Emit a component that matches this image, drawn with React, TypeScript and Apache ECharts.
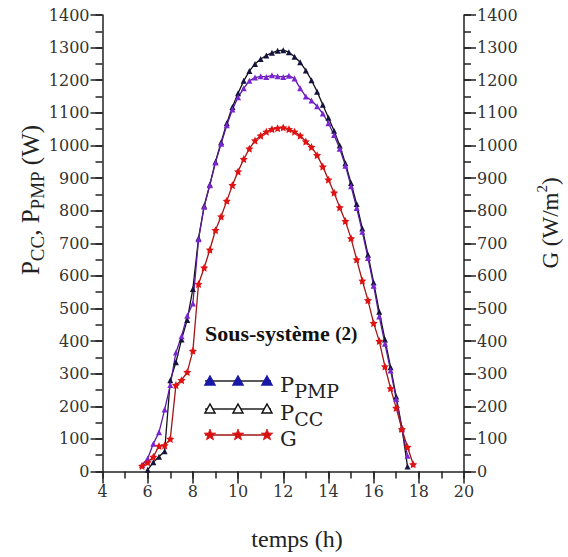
import React, { useEffect, useRef } from "react";
import * as echarts from "echarts";

const hours = [
  5.75, 6, 6.25, 6.5, 6.75, 7, 7.25, 7.5, 7.75, 8, 8.25, 8.5, 8.75, 9, 9.25, 9.5, 9.75,
  10, 10.25, 10.5, 10.75, 11, 11.25, 11.5, 11.75, 12, 12.25, 12.5, 12.75, 13, 13.25,
  13.5, 13.75, 14, 14.25, 14.5, 14.75, 15, 15.25, 15.5, 15.75, 16, 16.25, 16.5, 16.75,
  17, 17.25, 17.5, 17.75,
];

// top curve (dark)
const pcc = [
  null, 5, 28, 45, 62, 280, 335, 405, 465, 560, 715, 815, 880, 950, 1010, 1068, 1118,
  1160, 1198, 1228, 1250, 1265, 1276, 1284, 1290, 1292, 1286, 1272, 1255, 1230, 1200,
  1165, 1125, 1085, 1045, 1000, 945, 885, 820, 745, 665, 580, 490, 405, 320,
  230, 135, 15, null,
];

// second curve (purple)
const ppmp = [
  20, 40, 85, 120, 190, 265, 365, 415, 478, 515, 712, 812, 878, 948, 1005, 1062, 1110,
  1148, 1175, 1198, 1208, 1212, 1210, 1215, 1212, 1210, 1214, 1205, 1175, 1150, 1138,
  1120, 1098, 1068, 1032, 990, 938, 875, 808, 735, 655, 570, 475, 392, 310,
  222, 130, 48, null,
];

// irradiance
const gIrr = [
  17, 28, 45, 78, 80, 100, 265, 280, 305, 370, 575, 625, 680, 740, 782, 830, 878,
  920, 958, 990, 1015, 1030, 1042, 1050, 1053, 1055, 1050, 1042, 1030, 1012, 995,
  970, 935, 895, 855, 810, 768, 715, 650, 585, 525, 455, 400, 322, 255,
  195, 130, 75, 22,
];

const xTicks = { min: 4, max: 20, interval: 2, minor: 1 };
const yTicks = { min: 0, max: 1400, interval: 100, minor: 50 };

const FONT = "'DejaVu Serif', serif";
const TFONT = "'Liberation Serif', 'Times New Roman', serif";
const STAR = "path://M0,-10L2.9,-4L9.5,-3.1L4.8,1.5L5.9,8.1L0,5L-5.9,8.1L-4.8,1.5L-9.5,-3.1L-2.9,-4Z";
const AX = "#222";

function pairs(vals: (number | null)[]) {
  const out: number[][] = [];
  hours.forEach((h, i) => {
    const v = vals[i];
    if (v !== null && v !== undefined) out.push([h, v]);
  });
  return out;
}

function starPts(cx: number, cy: number, r: number, ri: number) {
  const pts: number[][] = [];
  for (let k = 0; k < 10; k++) {
    const a = -Math.PI / 2 + (k * Math.PI) / 5;
    const rr = k % 2 === 0 ? r : ri;
    pts.push([cx + rr * Math.cos(a), cy + rr * Math.sin(a)]);
  }
  return pts;
}

function triPts(cx: number, cy: number) {
  return [
    [cx, cy - 5],
    [cx + 5, cy + 4],
    [cx - 5, cy + 4],
  ];
}

export default function App() {
  const ref = useRef<HTMLDivElement>(null);
  useEffect(() => {
    if (!ref.current) return;
    const chart = echarts.init(ref.current, null, { renderer: "svg" });
    const major = {
      axisLine: { show: true, onZero: false, lineStyle: { color: AX, width: 1.5 } },
      axisTick: { show: true, length: 12, lineStyle: { color: AX, width: 1.5 } },
      splitLine: { show: false },
    };
    const minorAx = {
      axisLine: { show: false, onZero: false },
      axisTick: { show: true, length: 7, lineStyle: { color: AX, width: 1.5 } },
      axisLabel: { show: false },
      splitLine: { show: false },
    };
    const lbl = { fontFamily: FONT, fontSize: 16, color: "#333", formatter: (v: number) => String(v) };
    const yMajor = {
      type: "value",
      min: yTicks.min,
      max: yTicks.max,
      interval: yTicks.interval,
      ...major,
      axisLabel: { ...lbl, margin: 13 },
    };
    const yMinor = {
      type: "value",
      min: yTicks.min,
      max: yTicks.max,
      interval: yTicks.minor,
      ...minorAx,
    };

    const legendRows = [
      { y: 381, kind: "tri", fill: "#1818a8", stroke: "#1818a8", line: "#222", text: "{m|P}{s|PMP}" },
      { y: 409, kind: "tri", fill: "#ffffff", stroke: "#111", line: "#222", text: "{m|P}{s|CC}" },
      { y: 435, kind: "star", fill: "#d81010", stroke: "#d81010", line: "#a01515", text: "{m|G}" },
    ];
    const legendRich = {
      m: { fontFamily: FONT, fontSize: 21, lineHeight: 30, fill: "#222" },
      s: { fontFamily: FONT, fontSize: 19, lineHeight: 19, verticalAlign: "bottom", fill: "#222" },
    };
    const legendEls: any[] = [];
    legendRows.forEach((r) => {
      legendEls.push({
        type: "line",
        shape: { x1: 205, y1: r.y, x2: 271, y2: r.y },
        style: { stroke: r.line, lineWidth: 1.5 },
      });
      [210, 238, 267].forEach((cx) => {
        if (r.kind === "tri") {
          legendEls.push({
            type: "polygon",
            shape: { points: triPts(cx, r.y) },
            style: { fill: r.fill, stroke: r.stroke, lineWidth: 1.5 },
          });
        } else {
          legendEls.push({
            type: "polygon",
            shape: { points: starPts(cx, r.y, 6, 2.5) },
            style: { fill: r.fill, stroke: r.stroke, lineWidth: 0.8 },
          });
        }
      });
      legendEls.push({
        type: "text",
        x: 280,
        y: r.y + 4,
        style: { text: r.text, rich: legendRich, align: "left", verticalAlign: "middle" },
      });
    });

    chart.setOption({
      animation: false,
      backgroundColor: "#ffffff",
      grid: { left: 102.5, right: 104, top: 15, bottom: 85.5, containLabel: false },
      xAxis: [
        {
          type: "value",
          position: "bottom",
          min: xTicks.min,
          max: xTicks.max,
          interval: xTicks.interval,
          ...major,
          axisLabel: { ...lbl, margin: 12 },
        },
        {
          type: "value",
          position: "bottom",
          min: xTicks.min,
          max: xTicks.max,
          interval: xTicks.minor,
          ...minorAx,
        },
      ],
      yAxis: [
        { ...yMajor, position: "left" },
        { ...yMajor, position: "right" },
        { ...yMinor, position: "left" },
        { ...yMinor, position: "right" },
      ],
      series: [
        {
          name: "P_CC",
          type: "line",
          xAxisIndex: 0,
          yAxisIndex: 0,
          data: pairs(pcc),
          symbol: "triangle",
          symbolSize: 6,
          itemStyle: { color: "#14143c" },
          lineStyle: { color: "#111", width: 1.3 },
        },
        {
          name: "P_PMP",
          type: "line",
          xAxisIndex: 0,
          yAxisIndex: 0,
          data: pairs(ppmp),
          symbol: "triangle",
          symbolSize: 6,
          itemStyle: { color: "#7a26d2" },
          lineStyle: { color: "#5a1aa0", width: 1.3 },
        },
        {
          name: "G",
          type: "line",
          xAxisIndex: 0,
          yAxisIndex: 1,
          data: pairs(gIrr),
          symbol: STAR,
          symbolSize: 8,
          itemStyle: { color: "#e01212" },
          lineStyle: { color: "#a01515", width: 1.3 },
        },
      ],
      graphic: [
        {
          type: "text",
          x: 297,
          y: 539,
          style: {
            text: "temps (h)",
            font: `24px ${TFONT}`,
            fill: "#222",
            align: "center",
            verticalAlign: "middle",
          },
        },
        {
          type: "text",
          x: 30,
          y: 200,
          rotation: Math.PI / 2,
          style: {
            text: "{m|P}{s|CC}{m|, P}{s|PMP}{m| (W)}",
            rich: {
              m: { fontFamily: TFONT, fontSize: 25, lineHeight: 34, fill: "#222" },
              s: { fontFamily: TFONT, fontSize: 19, lineHeight: 19, verticalAlign: "bottom", fill: "#222" },
            },
            align: "center",
            verticalAlign: "middle",
          },
        },
        {
          type: "text",
          x: 550,
          y: 223,
          rotation: Math.PI / 2,
          style: {
            text: "{m|G (W/m}{u|2}{m|)}",
            rich: {
              m: { fontFamily: TFONT, fontSize: 23, lineHeight: 32, fill: "#222" },
              u: { fontFamily: TFONT, fontSize: 15, lineHeight: 15, verticalAlign: "top", fill: "#222" },
            },
            align: "center",
            verticalAlign: "middle",
          },
        },
        {
          type: "text",
          x: 205,
          y: 333,
          style: {
            text: "{b|Sous-système }{c|(2)}",
            rich: {
              b: { fontFamily: TFONT, fontWeight: "bold", fontSize: 22, fill: "#111" },
              c: { fontFamily: TFONT, fontWeight: "bold", fontSize: 19, fill: "#111" },
            },
            align: "left",
            verticalAlign: "middle",
          },
        },
        ...legendEls,
      ],
    });
    return () => chart.dispose();
  }, []);
  return (
    <div
      ref={ref}
      style={{ position: "fixed", left: 0, top: 0, width: 568, height: 557, background: "#fff" }}
    />
  );
}
